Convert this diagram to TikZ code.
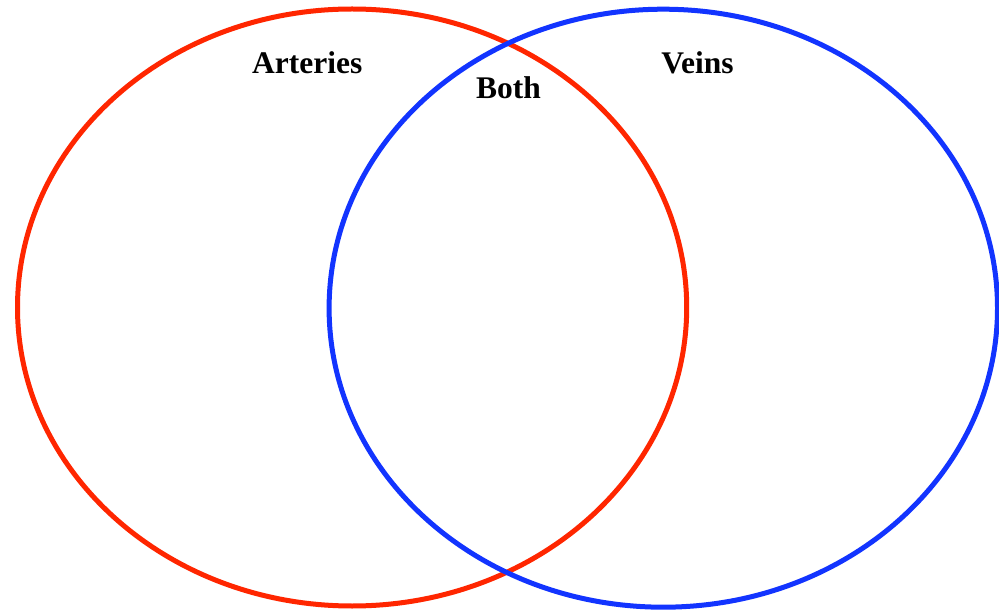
\documentclass[tikz,border=0pt]{standalone}
\usepackage{fontspec}
\setmainfont{Liberation Serif}
\definecolor{vred}{RGB}{255,38,0}
\definecolor{vblue}{RGB}{18,52,255}
\begin{document}
\begin{tikzpicture}[x=1pt,y=-1pt,
  ring/.style={line width=5pt},
  lbl/.style={anchor=base,inner sep=0pt,font=\fontsize{31.5}{31.5}\selectfont\bfseries}]
\useasboundingbox[fill=white] (0,0) rectangle (999,612);
\draw[ring,vred] (352.1,307.5) ellipse [x radius=334.6pt, y radius=298.5pt];
\draw[ring,vblue] (663.3,308.2) ellipse [x radius=334.2pt, y radius=299pt];
\node[lbl] (arteries) at (307.3,73.3) {Arteries};
\node[lbl] (veins) at (697.5,73.3) {Veins};
\node[lbl] (both) at (508.5,98.3) {Both};
\end{tikzpicture}
\end{document}
